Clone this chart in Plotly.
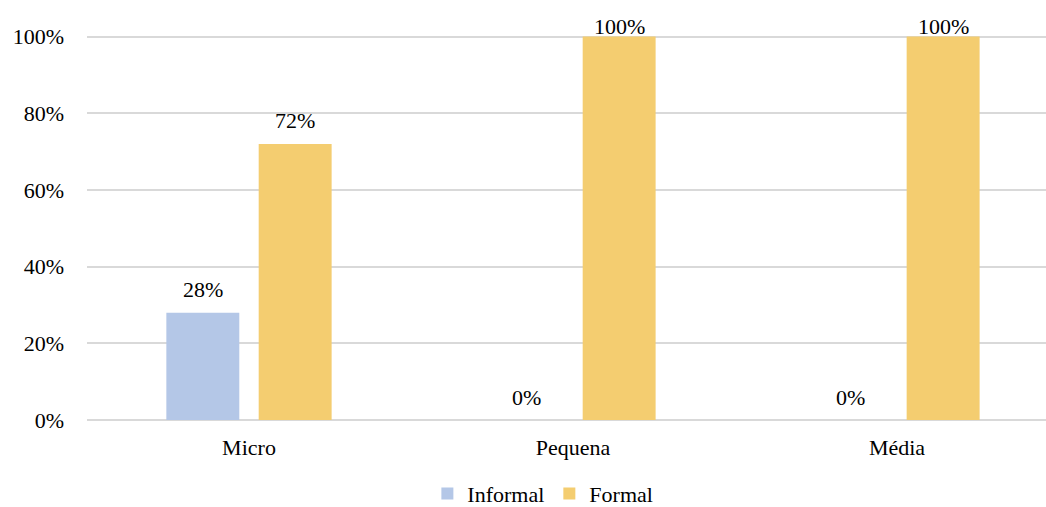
import plotly.graph_objects as go

categories = ["Micro", "Pequena", "Média"]
informal = [28, 0, 0]
formal = [72, 100, 100]
series_names = ["Informal", "Formal"]
y_ticks = [0, 20, 40, 60, 80, 100]
y_tick_labels = [f"{v}%" for v in y_ticks]

colors = ["#B4C7E7", "#F4CD70"]
FONT = "Times New Roman, Liberation Serif, DejaVu Serif, serif"
bargap = 0.43
bargroupgap = 0.21

fig = go.Figure()
for name, vals, col in zip(series_names, [informal, formal], colors):
    fig.add_trace(go.Bar(x=categories, y=vals, name=name, marker_color=col,
                         marker_line_width=0))

slot = (1 - bargap) / 2
for si, vals in enumerate([informal, formal]):
    off = (si - 0.5) * slot
    for ci, v in enumerate(vals):
        fig.add_annotation(x=ci + off, y=v, xref="x", yref="y",
                           text=f"{v}%", showarrow=False,
                           yshift=10 if v >= 100 else 23,
                           font=dict(family=FONT, size=22, color="#000000"))

fig.update_layout(
    width=1046, height=507,
    margin=dict(l=87, r=0, t=35, b=87),
    paper_bgcolor="white", plot_bgcolor="white",
    barmode="group", bargap=bargap, bargroupgap=bargroupgap,
    font=dict(family=FONT, size=22, color="#000000"),
    showlegend=True,
    legend=dict(orientation="h", xref="container", yref="container",
                x=0.519, y=0.026, xanchor="center", yanchor="middle",
                font=dict(family=FONT, size=22), itemwidth=30,
                traceorder="normal"),
    xaxis=dict(type="category", range=[-0.5, 2.46], showgrid=False,
               showline=False, ticks="", ticklabelstandoff=12,
               tickfont=dict(family=FONT, size=22)),
    yaxis=dict(range=[0, 100.4], tickvals=y_ticks, ticktext=y_tick_labels,
               showgrid=True, gridcolor="#D9D9D9", gridwidth=1.5,
               zeroline=True, zerolinecolor="#D9D9D9", zerolinewidth=1.5,
               showline=False, ticks="", ticklabelstandoff=22,
               tickfont=dict(family=FONT, size=22)),
)

fig.write_html("out.html")
